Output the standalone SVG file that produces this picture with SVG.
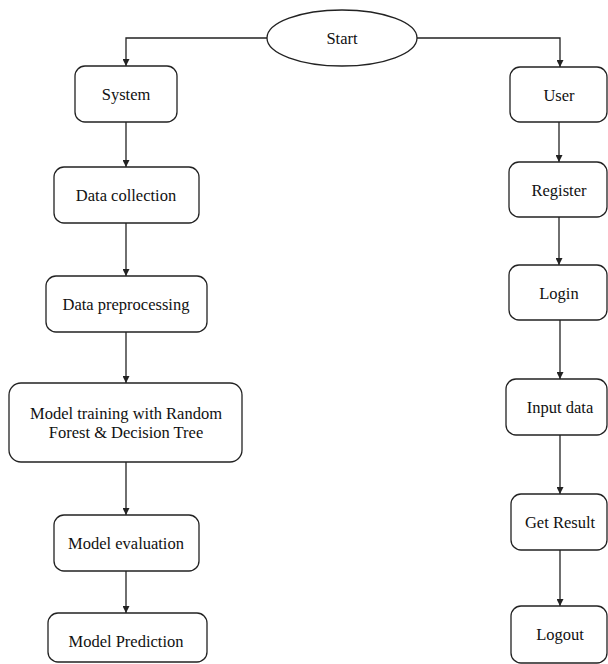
<svg xmlns="http://www.w3.org/2000/svg" width="608" height="664" viewBox="0 0 608 664">
<defs>
<style>
.n{fill:#fff;stroke:#222;stroke-width:1.3}
.t{font-family:'Liberation Serif','DejaVu Serif','Times New Roman',serif;font-size:16.5px;fill:#111;text-anchor:middle}
.c{fill:none;stroke:#222;stroke-width:1.3}
</style>
<marker id="ah" viewBox="0 0 10 10" refX="10" refY="5" markerWidth="7" markerHeight="7" markerUnits="userSpaceOnUse" orient="auto">
<path d="M0,0 L10,5 L0,10 Z" fill="#222"/>
</marker>
</defs>
<rect width="608" height="664" fill="#fff"/>
<g id="connectors">
<path class="c" d="M267,38 H126 V66" marker-end="url(#ah)"/>
<path class="c" d="M417,38 H560 V67" marker-end="url(#ah)"/>
<path class="c" d="M126,122 V167" marker-end="url(#ah)"/>
<path class="c" d="M126,223 V276" marker-end="url(#ah)"/>
<path class="c" d="M126,332 V383" marker-end="url(#ah)"/>
<path class="c" d="M126,462 V515" marker-end="url(#ah)"/>
<path class="c" d="M126,571 V613" marker-end="url(#ah)"/>
<path class="c" d="M559,122 V162" marker-end="url(#ah)"/>
<path class="c" d="M559,217 V265" marker-end="url(#ah)"/>
<path class="c" d="M560,320 V379" marker-end="url(#ah)"/>
<path class="c" d="M560,435 V494" marker-end="url(#ah)"/>
<path class="c" d="M560,550 V606" marker-end="url(#ah)"/>
</g>
<g font-family="Liberation Serif, DejaVu Serif, serif" font-size="16.5">
<g id="start"><ellipse class="n" cx="342" cy="38" rx="75" ry="28"/><text class="t" x="342" y="44">Start</text></g>
<g id="system"><rect class="n" x="75" y="66" width="102" height="56" rx="10"/><text class="t" x="126" y="100">System</text></g>
<g id="data-collection"><rect class="n" x="54" y="167" width="145" height="56" rx="10"/><text class="t" x="126" y="201">Data collection</text></g>
<g id="data-preprocessing"><rect class="n" x="46" y="276" width="161" height="56" rx="10"/><text class="t" x="126" y="310">Data preprocessing</text></g>
<g id="model-training"><rect class="n" x="9" y="383" width="233" height="79" rx="12"/><text class="t" x="126" y="419">Model training with Random</text><text class="t" x="126" y="438">Forest &amp; Decision Tree</text></g>
<g id="model-evaluation"><rect class="n" x="54" y="515" width="145" height="56" rx="10"/><text class="t" x="126" y="549">Model evaluation</text></g>
<g id="model-prediction"><rect class="n" x="48" y="613" width="159" height="49" rx="10"/><text class="t" x="126" y="647">Model Prediction</text></g>
<g id="user"><rect class="n" x="510" y="67" width="97" height="55" rx="10"/><text class="t" x="559" y="101">User</text></g>
<g id="register"><rect class="n" x="509" y="162" width="98" height="55" rx="10"/><text class="t" x="559" y="196">Register</text></g>
<g id="login"><rect class="n" x="509" y="265" width="98" height="55" rx="10"/><text class="t" x="559" y="299">Login</text></g>
<g id="input-data"><rect class="n" x="506" y="379" width="101" height="56" rx="10"/><text class="t" x="560" y="413">Input data</text></g>
<g id="get-result"><rect class="n" x="511" y="494" width="96" height="56" rx="10"/><text class="t" x="560" y="528">Get Result</text></g>
<g id="logout"><rect class="n" x="511" y="606" width="96" height="57" rx="10"/><text class="t" x="560" y="640">Logout</text></g>
</g>
</svg>
